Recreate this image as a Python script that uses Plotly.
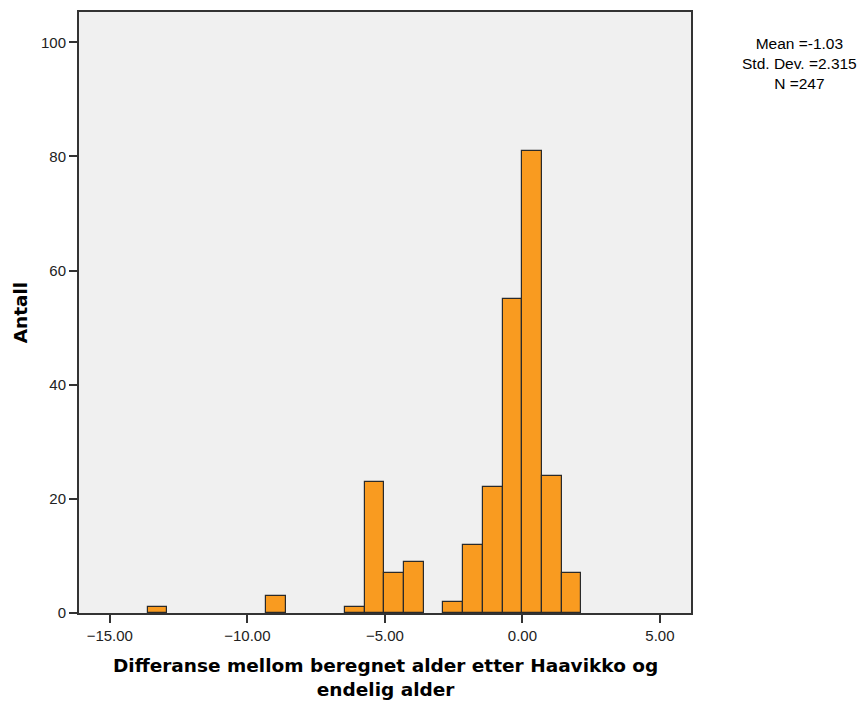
import plotly.graph_objects as go

# Histogram bins (left edges) and counts
bin_left = [-13.62, -9.32, -6.45, -5.74, -5.02, -4.30, -2.87, -2.15, -1.43, -0.72, 0.00, 0.72, 1.43]
counts = [1, 3, 1, 23, 7, 9, 2, 12, 22, 55, 81, 24, 7]
bin_width = 0.717

x_ticks = [-15, -10, -5, 0, 5]
y_ticks = [0, 20, 40, 60, 80, 100]

stats_text = "Mean =-1.03<br>Std. Dev. =2.315<br>N =247"
x_title = "Differanse mellom beregnet alder etter Haavikko og<br>endelig alder"
y_title = "Antall"

centers = [b + bin_width / 2 for b in bin_left]

fig = go.Figure()
fig.add_trace(go.Bar(
    x=centers,
    y=counts,
    width=[bin_width] * len(counts),
    marker=dict(color="#F99B20", line=dict(color="#2a2a2a", width=1.2)),
    hoverinfo="x+y",
    showlegend=False,
))

axis_font = dict(family="Liberation Sans, Arial, sans-serif", size=15, color="#222222")

fig.update_layout(
    width=863,
    height=704,
    margin=dict(l=79, r=172, t=10, b=91),
    paper_bgcolor="white",
    plot_bgcolor="#F0F0F0",
    bargap=0,
    xaxis=dict(
        range=[-16.12, 6.13],
        tickvals=x_ticks,
        tickformat=".2f",
        ticks="outside",
        ticklen=8,
        tickwidth=2,
        tickcolor="#333333",
        showgrid=False,
        zeroline=False,
        showline=True,
        linecolor="#333333",
        linewidth=2,
        mirror=True,
        tickfont=axis_font,
    ),
    yaxis=dict(
        range=[0, 105.3],
        tickvals=y_ticks,
        ticks="outside",
        ticklen=8,
        tickwidth=2,
        tickcolor="#333333",
        showgrid=False,
        zeroline=False,
        showline=True,
        linecolor="#333333",
        linewidth=2,
        mirror=True,
        tickfont=axis_font,
    ),
    annotations=[
        dict(
            text=x_title, xref="paper", yref="paper", x=0.5, y=-0.108,
            xanchor="center", yanchor="middle", showarrow=False,
            font=dict(family="DejaVu Sans", size=18.5, color="black", weight="bold"),
        ),
        dict(
            text=y_title, xref="paper", yref="paper", x=-0.095, y=0.5,
            xanchor="center", yanchor="middle", showarrow=False, textangle=-90,
            font=dict(family="DejaVu Sans", size=18.5, color="black", weight="bold"),
        ),
        dict(
            text=stats_text, xref="paper", yref="paper", x=1.178, y=0.914,
            xanchor="center", yanchor="middle", showarrow=False, align="center",
            font=dict(family="Liberation Sans, Arial, sans-serif", size=15.5, color="black"),
        ),
    ],
)

fig.write_html("out.html")
